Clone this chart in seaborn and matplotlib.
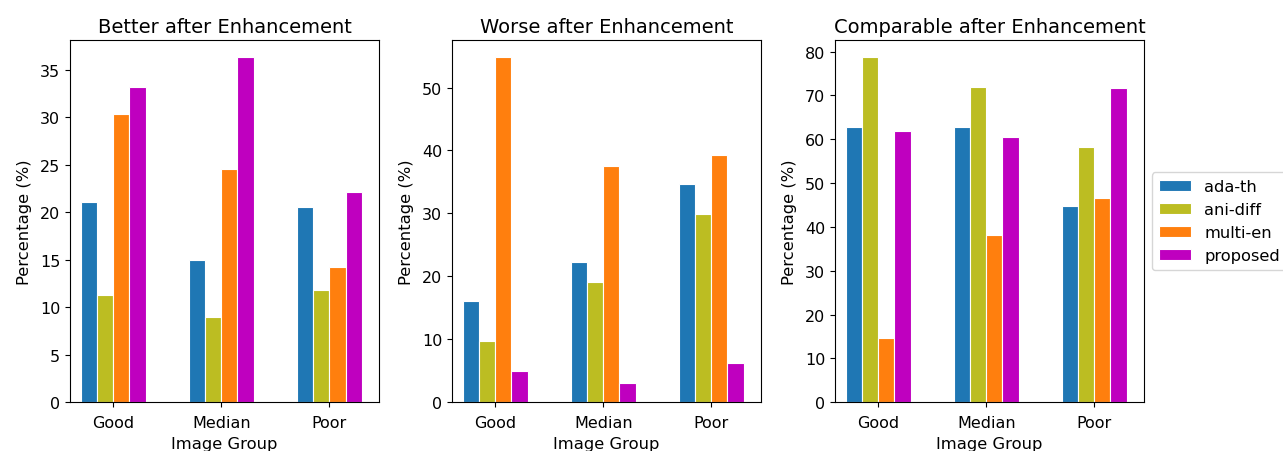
import matplotlib.pyplot as plt
import pandas as pd
import numpy as np
import seaborn as sns

groups = ["Good", "Median", "Poor"]
methods = ["ada-th", "ani-diff", "multi-en", "proposed"]
colors = ["#1f77b4", "#bcbd22", "#ff7f0e", "#bf00bf"]

# percentages per method, in group order Good / Median / Poor
better_ada = [21.1, 15.0, 20.5]
better_ani = [11.3, 9.0, 11.8]
better_multi = [30.3, 24.5, 14.2]
better_prop = [33.2, 36.3, 22.1]

worse_ada = [16.1, 22.2, 34.7]
worse_ani = [9.8, 19.1, 29.9]
worse_multi = [54.8, 37.5, 39.3]
worse_prop = [5.0, 3.0, 6.3]

comp_ada = [62.8, 62.8, 44.8]
comp_ani = [78.7, 71.9, 58.3]
comp_multi = [14.7, 38.1, 46.5]
comp_prop = [61.9, 60.6, 71.7]

titles = ["Better after Enhancement", "Worse after Enhancement", "Comparable after Enhancement"]
panels = [
    [better_ada, better_ani, better_multi, better_prop],
    [worse_ada, worse_ani, worse_multi, worse_prop],
    [comp_ada, comp_ani, comp_multi, comp_prop],
]


def long_df(series):
    rows = []
    for m, vals in zip(methods, series):
        for g, v in zip(groups, vals):
            rows.append({"group": g, "method": m, "value": v})
    return pd.DataFrame(rows)


plt.rcParams["font.family"] = ["DejaVu Sans"]
fig = plt.figure(figsize=(12.83, 4.52), dpi=100)
lefts = [0.0546, 0.3523, 0.6508]
width = 0.2408
bottom, height = 0.108, 0.801

for i, (title, series) in enumerate(zip(titles, panels)):
    ax = fig.add_axes([lefts[i], bottom, width, height])
    df = long_df(series)
    sns.barplot(data=df, x="group", y="value", hue="method", hue_order=methods,
                order=groups, palette=colors, width=0.6, saturation=1,
                edgecolor="white", linewidth=0.8, ax=ax, legend=(i == 2))
    ax.set_xlim(-0.40, 2.46)
    ax.set_ylim(0, max(max(s) for s in series) * 1.05)
    ax.set_title(title, fontsize=14)
    ax.set_xlabel("Image Group", fontsize=11.8, labelpad=4)
    ax.set_ylabel("Percentage (%)", fontsize=11.8, labelpad=6)
    ax.tick_params(labelsize=11.5)
    ax.tick_params(axis="x", pad=6)
    for sp in ax.spines.values():
        sp.set_color("black")
    if i == 2:
        ax.legend(loc="center left", bbox_to_anchor=(1.0, 0.5), fontsize=11.7, title=None)

fig.savefig("out.png", dpi=100)
